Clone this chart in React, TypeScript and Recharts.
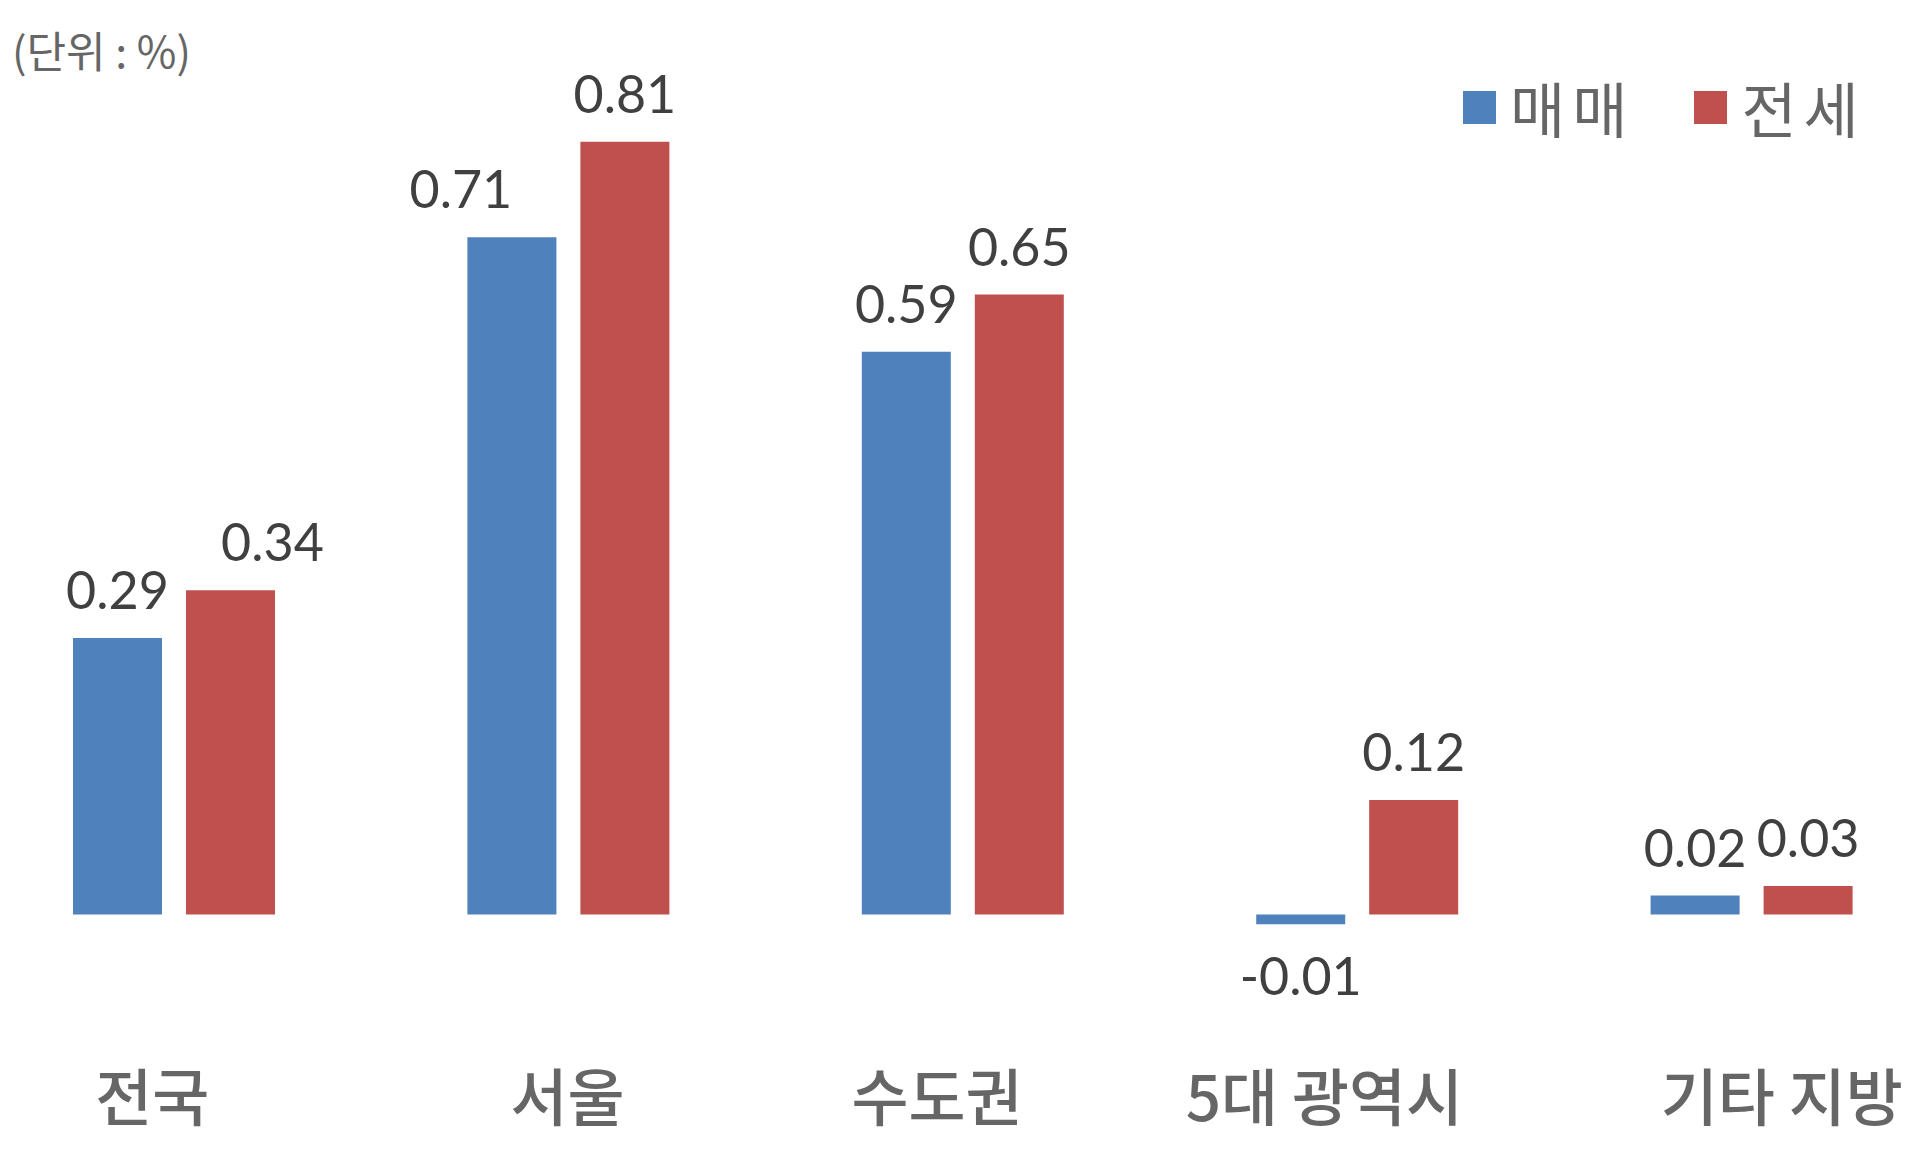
import React from "react";
import { BarChart, Bar, XAxis, YAxis, Legend, LabelList } from "recharts";

const regions = ["전국", "서울", "수도권", "5대 광역시", "기타 지방"];
const sale = [0.29, 0.71, 0.59, -0.01, 0.02];
const jeonse = [0.34, 0.81, 0.65, 0.12, 0.03];

const data = regions.map((name, i) => ({ name, sale: sale[i], jeonse: jeonse[i] }));

// label nudges (the source had a few labels dragged by hand)
const tickShift = [-22, -1, -26, -33, 30];
const saleLabelShift = [0, -51, 0, 0, 0];
const jeonseLabelShift = [42, 0, 0, 0, 0];

const KR = "'Noto Sans CJK KR', 'Noto Sans', sans-serif";
const NUM = "Lato, 'Open Sans', sans-serif";

const BLUE = "#4F81BD";
const RED = "#C0504D";

function CategoryTick(props: any) {
  const { x, y, payload, index } = props;
  return (
    <text
      x={x + (tickShift[index] || 0)}
      y={y + 84}
      textAnchor="middle"
      dominantBaseline="central"
      fontFamily={KR}
      fontSize={62}
      fontWeight={500}
      fill="#666666"
    >
      {payload.value}
    </text>
  );
}

function makeLabel(shifts: number[]) {
  return (props: any) => {
    const { x, y, width, height, value, index } = props;
    const top = Math.min(y, y + height);
    const bottom = Math.max(y, y + height);
    const cx = x + width / 2 + (shifts[index] || 0);
    const ty = value >= 0 ? top - 29 : bottom + 71;
    return (
      <text x={cx} y={ty} textAnchor="middle" fontFamily={NUM} fontSize={52} fill="#404040">
        {value.toFixed(2)}
      </text>
    );
  };
}

function LegendBox(props: any) {
  const { payload } = props;
  return (
    <div style={{ display: "flex", alignItems: "center", fontFamily: KR, fontSize: 60, color: "#666666", lineHeight: "60px", letterSpacing: 7 }}>
      {(payload || []).map((p: any, i: number) => (
        <div key={p.value} style={{ display: "flex", alignItems: "center", marginRight: i === 0 ? 60 : 0 }}>
          <span style={{ display: "inline-block", width: 33, height: 33, background: p.color, marginRight: 14 }} />
          <span>{p.value}</span>
        </div>
      ))}
    </div>
  );
}

export default function App() {
  return (
    <div style={{ position: "absolute", left: 0, top: 0, width: 1918, height: 1156, overflow: "hidden", background: "#fff" }}>
      <div style={{ position: "absolute", left: 12, top: 24, fontFamily: KR, fontSize: 43, color: "#666666", lineHeight: "50px" }}>
        (단위 : %)
      </div>
      <BarChart
        width={1918}
        height={1156}
        data={data}
        margin={{ top: 56, right: -31, bottom: 0, left: -23 }}
        barSize={89}
        barGap={24}
      >
        <XAxis
          dataKey="name"
          axisLine={false}
          tickLine={false}
          tickSize={0}
          tickMargin={0}
          height={146}
          interval={0}
          tick={<CategoryTick />}
        />
        <YAxis hide domain={[-0.1, 0.9]} />
        <Legend
          layout="vertical"
          align="center"
          verticalAlign="middle"
          content={<LegendBox />}
          wrapperStyle={{ top: 77, left: 1463, width: 450, height: 60 }}
        />
        <Bar dataKey="sale" name="매매" fill={BLUE} isAnimationActive={false}>
          <LabelList dataKey="sale" content={makeLabel(saleLabelShift)} />
        </Bar>
        <Bar dataKey="jeonse" name="전세" fill={RED} isAnimationActive={false}>
          <LabelList dataKey="jeonse" content={makeLabel(jeonseLabelShift)} />
        </Bar>
      </BarChart>
    </div>
  );
}
